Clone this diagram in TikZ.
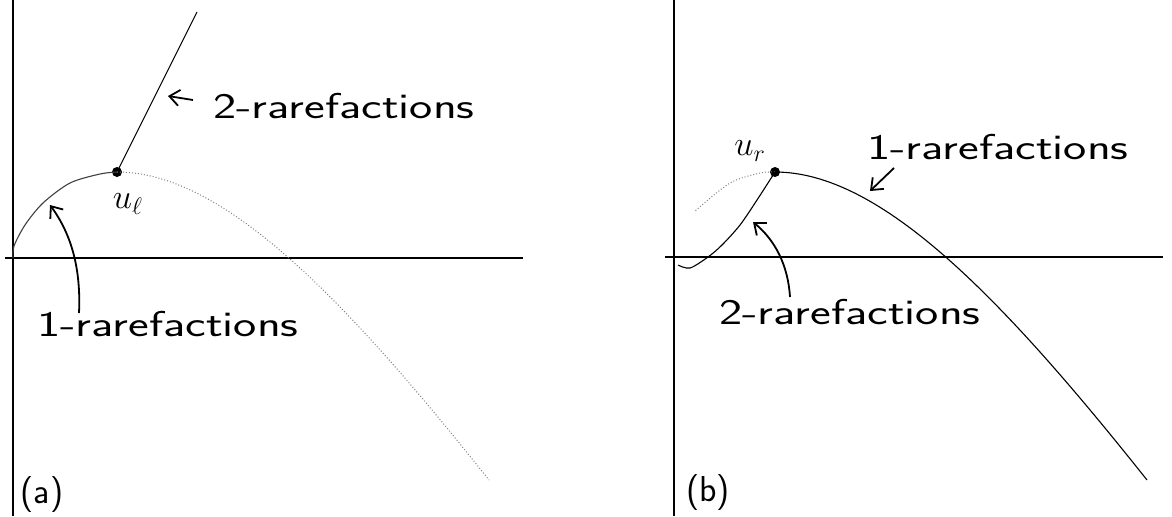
\documentclass[tikz,border=0pt]{standalone}
\usetikzlibrary{arrows.meta}
\newcommand{\handtext}[1]{\scalebox{1.37}[1]{#1}}
\begin{document}
\begin{tikzpicture}[x=0.5pt,y=-0.5pt,
  axis/.style={line width=0.8pt},
  curve/.style={line width=0.55pt},
  faint/.style={line width=0.5pt, densely dotted, black!50},
  lbl/.style={font=\sffamily\fontsize{18}{22}\selectfont, inner sep=0pt},
  ptr/.style={line width=0.9pt, -{Straight Barb[length=5pt,width=8pt]}},
  dot/.style={circle, fill, inner sep=0pt, minimum size=5pt}]
\useasboundingbox (0,0) rectangle (1172,516);
% ---------- panel (a) ----------
\coordinate (aT) at (13,0);
\coordinate (aB) at (13,516);
\coordinate (aL) at (5,258);
\coordinate (aR) at (523,258);
\draw[axis, line width=0.6pt] (aT) -- (aB);
\draw[axis] (aL) -- (aR);
\node[dot] (ul) at (117,172) {};
\coordinate (a2top) at (197,12);
\coordinate (a1end) at (489,480);
\draw[curve] (ul.center) -- (a2top);
\draw[curve, black!75] plot[smooth] coordinates {(13,258) (14,246) (25,225) (43,203) (70,183) (100,174) (117,172)};
\draw[faint] (ul.center) .. controls (222,172) and (342,295) .. (a1end);
\node[lbl] (ullab) at (128,204) {$u_\ell$};
\node[lbl] (a2lab) at (344,106) {\handtext{2-rarefactions}};
\coordinate (a2t) at (193,100);
\coordinate (a2h) at (168,96);
\draw[ptr] (a2t) -- (a2h);
\node[lbl] (a1lab) at (168,324) {\handtext{1-rarefactions}};
\coordinate (a1t) at (79,313);
\coordinate (a1h) at (50,205);
\draw[ptr] (a1t) .. controls (81,270) and (72,235) .. (a1h);
\node[lbl] (alab) at (42,495) {(a)};
% ---------- panel (b) ----------
\coordinate (bT) at (674,0);
\coordinate (bB) at (674,516);
\coordinate (bL) at (665,257);
\coordinate (bR) at (1163,257);
\draw[axis, line width=0.6pt] (bT) -- (bB);
\draw[axis] (bL) -- (bR);
\node[dot] (ur) at (775,172) {};
\coordinate (b1end) at (1147,480);
\draw[curve] (ur.center) .. controls (880,172) and (1000,295) .. (b1end);
\draw[faint] plot[smooth] coordinates {(775,172) (760,173) (730,183) (695,211)};
\draw[curve] plot[smooth] coordinates {(775,172) (757,200) (740,225) (722,245) (708,257) (690,268) (678,265)};
\node[lbl] (urlab) at (750,151) {$u_r$};
\node[lbl] (b1lab) at (998,147) {\handtext{1-rarefactions}};
\coordinate (b1t) at (894,168);
\coordinate (b1h) at (870,191);
\draw[ptr] (b1t) -- (b1h);
\node[lbl] (b2lab) at (850,312) {\handtext{2-rarefactions}};
\coordinate (b2t) at (790,297);
\coordinate (b2h) at (753,222);
\draw[ptr] (b2t) .. controls (788,265) and (775,240) .. (b2h);
\node[lbl] (blab) at (708,493) {(b)};
\end{tikzpicture}
\end{document}
